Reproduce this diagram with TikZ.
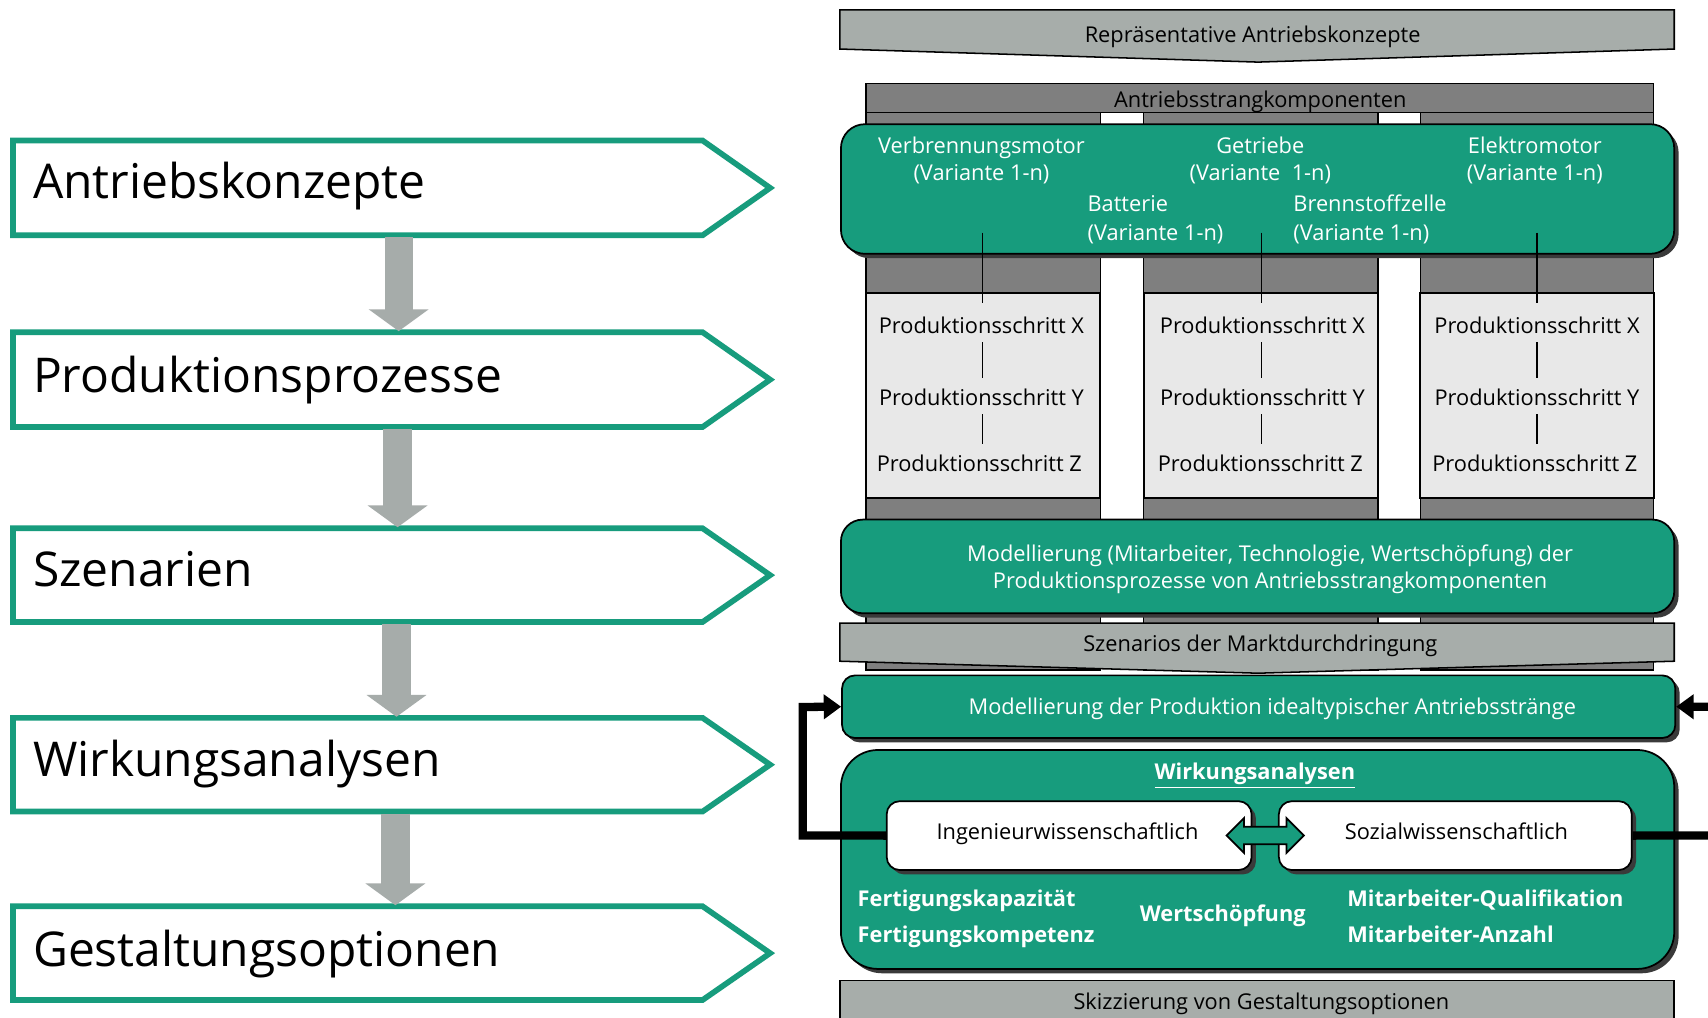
\documentclass[tikz,border=0pt]{standalone}
\usepackage{fontspec}
\setmainfont{Open Sans}
\usetikzlibrary{arrows.meta,fit}
\definecolor{fgreen}{HTML}{179C7D}
\definecolor{bgray}{HTML}{A7ADAA}
\definecolor{dgray}{HTML}{7F7F7F}
\definecolor{lgray}{HTML}{E8E8E8}
\definecolor{agray}{HTML}{A6ACAA}
\definecolor{shadowc}{HTML}{3A3A3A}
\begin{document}
\begin{tikzpicture}[x=0.5pt,y=-0.5pt,
  every node/.style={inner sep=0pt, font=\fontsize{10}{12}\selectfont},
  wt/.style={text=white, anchor=base},
  bt/.style={text=white, font=\fontsize{10}{12}\selectfont\bfseries, anchor=base west},
  big/.style={font=\fontsize{22}{26}\selectfont, anchor=base west},
  pent/.style={draw=fgreen, line width=2.6pt, fill=white, line join=miter},
  garrow/.style={draw=agray, line width=13pt, -{Triangle[length=10pt,width=27pt]}},
  banner/.style={fill=bgray, draw=black, line width=0.7pt},
  darkbox/.style={fill=dgray, draw=black, line width=0.6pt},
  lightbox/.style={fill=lgray, draw=black, line width=0.9pt},
  gbox/.style={fill=fgreen, draw=black, line width=0.8pt, rounded corners=#1},
  gbox/.default=10pt,
  wbox/.style={fill=white, draw=black, line width=0.8pt, rounded corners=6pt},
  shad/.style={fill=shadowc, rounded corners=#1},
  shad/.default=10pt,
  conn/.style={draw=black, line width=0.6pt},
  stepconn/.style={conn, shorten <=0.5pt, shorten >=2pt},
  loopline/.style={draw=black, line width=3.8pt, line join=miter, -{Triangle[length=8pt,width=11pt]}}
]
\useasboundingbox (0,0) rectangle (1568,934);
\clip (0,0) rectangle (1568,934);
\fill[white] (0,0) rectangle (1568,934);

% ---------------- left column ----------------
\draw[pent] (12,129) -- (645,129) -- (707,172.5) -- (645,216) -- (12,216) -- cycle;
\draw[pent] (12,305) -- (645,305) -- (707,348.5) -- (645,392) -- (12,392) -- cycle;
\draw[pent] (12,485) -- (645,485) -- (707,528) -- (645,571) -- (12,571) -- cycle;
\draw[pent] (12,659) -- (645,659) -- (707,702) -- (645,745) -- (12,745) -- cycle;
\draw[pent] (12,832) -- (645,832) -- (707,875) -- (645,918) -- (12,918) -- cycle;
\node[big] (p1) at (30,182) {Antriebskonzepte};
\node[big] (p2) at (30,360.5) {Produktionsprozesse};
\node[big] (p3) at (30,538) {Szenarien};
\node[big] (p4) at (30,713) {Wirkungsanalysen};
\node[big] (p5) at (30,887) {Gestaltungsoptionen};
\coordinate (a1s) at (366,218); \coordinate (a1e) at (366,304);
\coordinate (a2s) at (365,394); \coordinate (a2e) at (365,484);
\coordinate (a3s) at (364,573); \coordinate (a3e) at (364,658);
\coordinate (a4s) at (363,747); \coordinate (a4e) at (363,831);
\draw[garrow] (a1s) -- (a1e);
\draw[garrow] (a2s) -- (a2e);
\draw[garrow] (a3s) -- (a3e);
\draw[garrow] (a4s) -- (a4e);

% ---------------- right column ----------------
\draw[banner] (771,9) -- (1537,9) -- (1537,45) -- (1155,57) -- (771,45) -- cycle;
\node[anchor=base] (rep) at (1150,39) {Repräsentative Antriebskonzepte};

\draw[darkbox] (795,103) rectangle (1010,615);
\draw[darkbox] (1050,103) rectangle (1265,615);
\draw[darkbox] (1304,103) rectangle (1518,615);
\draw[darkbox] (795,76.5) rectangle (1518,103);
\node[anchor=base] (ask) at (1157,99) {Antriebsstrangkomponenten};

\draw[lightbox] (795,269) rectangle (1010,457);
\draw[lightbox] (1050,269) rectangle (1265,457);
\draw[lightbox] (1304,269) rectangle (1518,457);

% green box 1
\fill[shad=11pt] (776,118) rectangle (1541,237);
\node[gbox=11pt, fit={(772,114)(1537,233)}] (G1) {};
\node[wt] (vm) at (901,141) {Verbrennungsmotor};
\node[wt] (vmv) at (901,166) {(Variante 1-n)};
\node[wt] (ge) at (1157,141) {Getriebe};
\node[wt] (gev) at (1157,166) {(Variante\ \ 1-n)};
\node[wt] (em) at (1409,141) {Elektromotor};
\node[wt] (emv) at (1409,166) {(Variante 1-n)};
\node[wt, anchor=base west] (ba) at (998,194) {Batterie};
\node[wt, anchor=base west] (bav) at (998,221) {(Variante 1-n)};
\node[wt, anchor=base west] (bz) at (1187,194) {Brennstoffzelle};
\node[wt, anchor=base west] (bzv) at (1187,221) {(Variante 1-n)};

% production steps
\node[anchor=base, inner sep=3pt] (x1) at (901,306.5) {Produktionsschritt X};
\node[anchor=base, inner sep=3pt] (y1) at (901,372.5) {Produktionsschritt Y};
\node[anchor=base, inner sep=3pt] (z1) at (899,433) {Produktionsschritt Z};
\node[anchor=base, inner sep=3pt] (x2) at (1159,306.5) {Produktionsschritt X};
\node[anchor=base, inner sep=3pt] (y2) at (1159,372.5) {Produktionsschritt Y};
\node[anchor=base, inner sep=3pt] (z2) at (1157,433) {Produktionsschritt Z};
\node[anchor=base, inner sep=3pt] (x3) at (1411,306.5) {Produktionsschritt X};
\node[anchor=base, inner sep=3pt] (y3) at (1411,372.5) {Produktionsschritt Y};
\node[anchor=base, inner sep=3pt] (z3) at (1409,433) {Produktionsschritt Z};

\coordinate (l1a) at (902,213.5); \coordinate (l1b) at (902,278);
\coordinate (l2a) at (1158,213.5); \coordinate (l2b) at (1158,278);
\coordinate (l3a) at (1411,213.5); \coordinate (l3b) at (1411,278);
\draw[conn] (l1a) -- (l1b);
\draw[conn] (l2a) -- (l2b);
\draw[conn] (l3a) -- (l3b);
\draw[stepconn] (x1.south -| l1a) -- (y1.north -| l1a);
\draw[stepconn] (y1.south -| l1a) -- (z1.north -| l1a);
\draw[stepconn] (x2.south -| l2a) -- (y2.north -| l2a);
\draw[stepconn] (y2.south -| l2a) -- (z2.north -| l2a);
\draw[stepconn] (x3.south -| l3a) -- (y3.north -| l3a);
\draw[stepconn] (y3.south -| l3a) -- (z3.north -| l3a);

% green box 2
\fill[shad=10pt] (776,481) rectangle (1541,567);
\node[gbox=10pt, fit={(772,477)(1537,563)}] (G2) {};
\node[wt] (m1) at (1166,515) {Modellierung (Mitarbeiter, Technologie, Wertschöpfung) der};
\node[wt] (m2) at (1166,540) {Produktionsprozesse von Antriebsstrangkomponenten};

% banner 2
\draw[banner] (771,572) -- (1537,572) -- (1537,607) -- (1155,618) -- (771,607) -- cycle;
\node[anchor=base] (sz) at (1157,598) {Szenarios der Marktdurchdringung};

% green box 3
\fill[shad=6pt] (777,624) rectangle (1542,681.5);
\node[gbox=6pt, fit={(773,620)(1538,677.5)}] (G3) {};
\node[wt] (mp) at (1168,655.5) {Modellierung der Produktion idealtypischer Antriebsstränge};

% green box 4
\fill[shad=17pt] (776,692.5) rectangle (1541,893.5);
\node[gbox=17pt, fit={(772,688.5)(1537,889.5)}] (G4) {};
\node[wt, font=\fontsize{10}{12}\selectfont\bfseries] (wa) at (1152,715.5) {\underline{Wirkungsanalysen}};

% white boxes
\fill[shad=6pt] (818,739.5) rectangle (1153,802.7);
\fill[shad=6pt] (1178,739.5) rectangle (1502,802.7);
\node[wbox, fit={(814,735.5)(1149,798.7)}] (IW) {};
\node[wbox, fit={(1174,735.5)(1498,798.7)}] (SW) {};
\node[anchor=base] (iwt) at (980,771) {Ingenieurwissenschaftlich};
\node[anchor=base] (swt) at (1337,771) {Sozialwissenschaftlich};

% feedback loops
\coordinate (lc1) at (737,767); \coordinate (lc2) at (737,649);
\coordinate (rc1) at (1610,767); \coordinate (rc2) at (1610,649);
\draw[loopline] (IW.west) -- (lc1) -- (lc2) -- (G3.west);
\draw[loopline] (SW.east) -- (rc1) -- (rc2) -- (G3.east);

% double arrow between the two analyses
\draw[fill=fgreen, draw=black, line width=0.8pt, line join=miter]
  (1126,767) -- (1142,751) -- (1142,759) -- (1181,759) -- (1181,751) -- (1197,767)
  -- (1181,783) -- (1181,775) -- (1142,775) -- (1142,783) -- cycle;

% bold criteria
\node[bt] (fk1) at (787,832) {Fertigungskapazität};
\node[bt] (fk2) at (787,865) {Fertigungskompetenz};
\node[bt] (ws) at (1046,846) {Wertschöpfung};
\node[bt] (mq) at (1236.5,832) {Mitarbeiter-Qualifikation};
\node[bt] (ma) at (1236.5,865) {Mitarbeiter-Anzahl};

% bottom banner
\draw[banner] (771,900) rectangle (1537,960);
\node[anchor=base] (sk) at (1158,927) {Skizzierung von Gestaltungsoptionen};
\end{tikzpicture}
\end{document}
